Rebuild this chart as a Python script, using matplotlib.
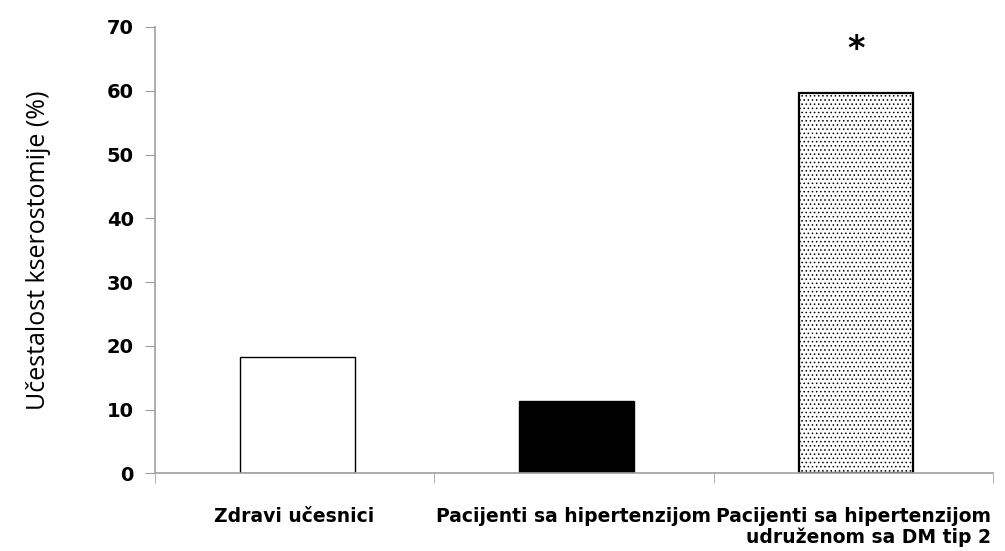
import matplotlib.pyplot as plt
import numpy as np

# data
groups = ['Zdravi učesnici', 'Pacijenti sa hipertenzijom',
          'Pacijenti sa hipertenzijom\nudruženom sa DM tip 2']
values = [18.3, 11.4, 59.7]
fills = ['white', 'black', 'white']
hatches = ['', '', '....']
y_ticks = [0, 10, 20, 30, 40, 50, 60, 70]
star_value = 66.5

plt.rcParams['hatch.linewidth'] = 0.6

fig = plt.figure(figsize=(10.05, 5.51), dpi=100)
ax = fig.add_axes([0.154, 0.141, 0.834, 0.81])

x = np.arange(len(groups))
for i in range(len(groups)):
    ax.bar(x[i] + 0.01, values[i], width=0.41, color=fills[i], edgecolor='black',
           hatch=hatches[i], linewidth=1.6 if hatches[i] else 1.0, zorder=2)

ax.text(x[2] + 0.01, star_value, '*', ha='center', va='center',
        fontsize=24, fontweight='bold')

ax.set_xlim(-0.5, 2.5)
ax.set_ylim(0, 70)
ax.set_yticks(y_ticks)
ax.set_xticks(x)
ax.set_xticklabels(groups, fontsize=13.5, fontweight='bold',
                   family='DejaVu Sans', linespacing=1.1)
ax.get_xticklabels()[2].set_multialignment('right')
ax.set_xticks([-0.5, 0.5, 1.5, 2.5], minor=True)
ax.tick_params(axis='x', which='major', length=0, pad=24)
ax.tick_params(axis='x', which='minor', length=7, color='#a0a0a0', direction='out')
ax.tick_params(axis='y', length=7, color='#a0a0a0', direction='out', pad=8)
for lab in ax.get_yticklabels():
    lab.set_fontweight('bold')
    lab.set_fontsize(14)
    lab.set_family('DejaVu Sans')

ax.set_ylabel('Učestalost kserostomije (%)', fontsize=18,
              family='Open Sans', labelpad=40)

for s in ['top', 'right']:
    ax.spines[s].set_visible(False)
for s in ['left', 'bottom']:
    ax.spines[s].set_color('#a0a0a0')
    ax.spines[s].set_linewidth(1.2)

plt.savefig('out.png', dpi=100)
plt.close()
